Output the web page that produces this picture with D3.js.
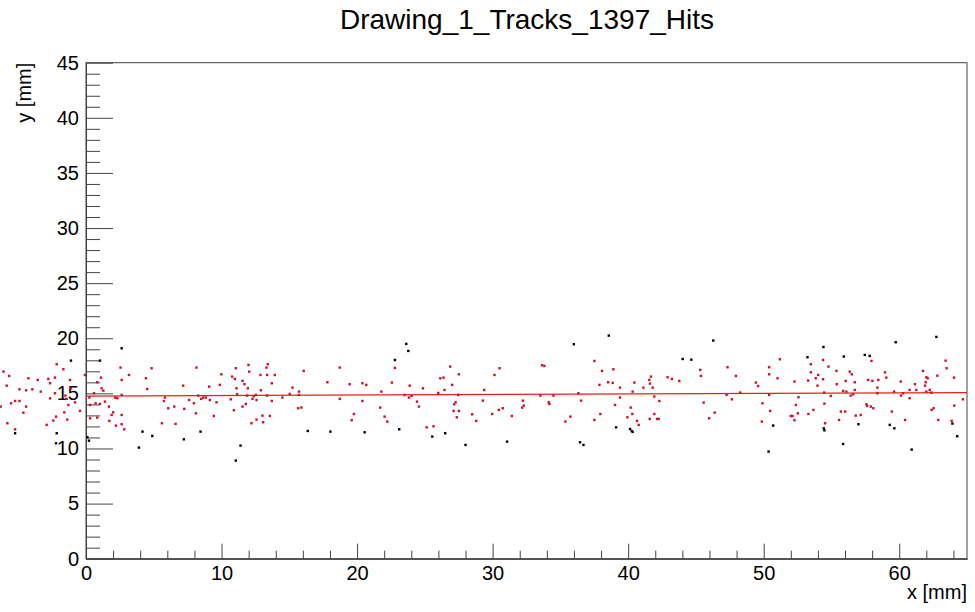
<!DOCTYPE html>
<html>
<head>
<meta charset="utf-8">
<script src="https://cdn.jsdelivr.net/npm/d3@7"></script>
<style>
  html, body { margin: 0; padding: 0; background: #fff; }
  svg { display: block; font-family: "Liberation Sans", Arial, Helvetica, sans-serif; }
</style>
</head>
<body>
<svg id="chart" width="975" height="612"></svg>
<script>
// ---------- data ----------
const chartTitle = "Drawing_1_Tracks_1397_Hits";
const xTitle = "x [mm]";
const yTitle = "y [mm]";
const xDomain = [0, 65];
const yDomain = [0, 45];
const xMajorTicks = [0, 10, 20, 30, 40, 50, 60];
const yMajorTicks = [0, 5, 10, 15, 20, 25, 30, 35, 40, 45];

// hits assigned to the track (red)
const redX = [
 -6.09,-5.67,-5.85,-6.29,-5.53,-5.23,-4.91,-4.91,-4.42,-3.96,-4.25,-3.56,-2.78,-2.65,-2.29,-2.16,-1.67,-1.18,-1.11,-3.34,
 -2.29,-2.65,-4.42,-4.62,-5.80,-5.23,-2.90,-2.41,-2.21,-1.60,-1.38,-0.44,-1.52,-1.43,-1.30,-0.81,-0.08,
 0.25,0.59,0.71,1.03,0.83,1.10,1.15,1.28,1.40,1.69,1.89,2.01,1.72,2.21,0.30,0.83,2.14,2.31,0.30,
 2.55,2.63,3.17,2.63,2.63,2.63,2.82,4.84,4.42,4.52,7.17,8.15,5.82,5.75,6.07,6.51,5.60,6.61,7.25,7.61,7.96,8.11,8.28,8.50,
 8.65,8.84,9.14,9.09,9.63,9.43,9.87,9.99,10.68,10.78,10.98,11.05,11.10,11.15,10.91,
 11.55,11.69,11.99,12.04,11.94,11.89,11.55,11.79,12.28,12.38,12.53,12.58,12.90,12.87,13.31,13.41,13.36,13.93,13.71,13.36,
 13.71,12.21,12.58,13.02,13.07,13.56,14.49,15.03,15.23,15.72,15.70,15.65,15.89,16.06,17.81,18.72,18.72,19.45,19.77,19.60,
 20.39,20.68,20.39,21.71,21.79,22.03,22.23,22.57,22.79,23.51,23.83,23.88,24.02,24.42,24.56,24.86,25.13,25.64,25.99,26.14,
 26.38,26.45,26.87,27.02,27.51,27.46,27.27,27.17,27.12,27.51,27.36,28.49,28.79,
 29.28,29.38,30.14,30.51,29.97,30.46,30.75,31.42,32.23,32.30,32.18,33.53,33.65,33.82,34.14,34.19,34.49,35.37,35.74,36.33,
 36.53,37.51,37.51,
 37.88,37.95,38.07,38.91,38.52,38.86,39.40,39.40,39.03,40.46,40.33,41.12,41.56,41.68,41.61,41.81,41.93,42.30,40.19,40.31,
 39.94,40.65,40.78,41.59,41.93,42.13,42.25,42.91,43.23,43.77,45.32,45.37,45.57,45.98,46.38,
 47.33,47.95,49.42,49.59,47.26,48.27,47.65,50.40,50.40,51.02,51.19,50.40,49.91,50.48,49.86,52.27,52.57,52.37,52.52,52.27,
 52.00,52.12,53.28,53.48,53.48,53.84,54.02,54.38,54.38,53.97,54.46,54.78,55.37,55.39,54.95,54.48,53.67,53.30,54.53,
 55.56,55.69,56.01,55.86,56.10,56.05,56.35,56.50,56.72,56.72,56.42,56.60,56.79,57.16,57.58,57.63,57.90,58.09,57.70,58.02,
 58.46,58.39,58.39,57.95,58.95,59.05,59.45,59.62,60.11,60.13,60.28,60.43,60.77,60.77,61.16,61.26,61.75,61.90,61.95,62.00,
 62.10,62.00,62.25,62.37,62.39,62.54,62.81,62.88,63.42,63.50,64.04,64.06,63.87,64.70
];
const redY = [
 16.98,16.58,15.70,13.80,14.10,14.31,15.37,14.31,15.28,15.37,16.37,16.22,16.31,15.92,16.43,17.64,17.19,16.22,15.46,15.16,
 15.01,14.55,13.80,13.25,12.29,11.74,12.14,12.53,12.89,13.28,12.62,13.41,14.80,14.50,13.95,14.19,16.67,
 14.62,15.01,14.10,14.04,16.01,16.43,15.46,15.25,14.25,13.80,13.04,13.28,12.50,12.07,12.74,12.80,14.62,14.56,13.95,
 17.34,16.22,16.67,14.86,13.04,12.20,11.74,17.28,16.37,15.40,15.70,17.34,14.62,14.31,13.65,13.80,12.29,12.23,13.59,14.40,14.10,13.19,14.80,14.50,
 14.62,14.62,14.40,15.61,14.19,12.95,15.77,16.73,14.46,16.52,16.31,17.28,15.46,14.92,13.47,
 16.13,15.83,17.58,16.97,15.46,14.80,13.80,14.04,14.50,14.74,14.86,14.40,15.28,16.67,17.34,17.64,16.67,16.67,15.92,14.80,
 14.31,12.29,12.62,12.98,12.38,12.95,14.62,14.95,15.52,15.16,14.86,13.65,13.71,17.04,16.01,17.34,14.50,15.83,13.13,12.56,
 15.92,15.77,14.31,13.71,15.16,12.89,12.44,15.98,17.31,14.86,14.62,15.70,14.77,14.25,13.80,15.46,11.92,12.01,15.04,16.37,
 16.43,15.31,17.43,15.77,16.73,14.86,14.19,14.01,13.41,13.41,12.83,13.10,12.50,
 14.34,15.31,16.67,17.28,13.13,13.50,13.65,12.95,14.34,13.89,13.71,14.80,17.55,17.49,14.19,14.04,14.80,12.44,12.89,15.01,
 14.34,17.94,12.59,
 15.77,13.13,17.04,17.19,16.01,15.95,15.52,14.62,13.95,15.98,15.16,15.52,16.22,16.52,15.89,15.52,14.71,14.31,13.71,13.13,
 12.83,12.50,12.14,12.68,13.13,12.68,12.68,16.46,16.31,16.13,17.13,16.58,14.16,12.74,13.25,
 17.37,16.58,15.98,15.67,14.86,15.07,14.46,17.37,16.73,16.37,18.09,14.86,14.10,13.41,12.44,16.07,14.65,13.95,13.19,12.56,
 12.95,12.95,16.16,17.64,16.91,16.37,16.67,18.03,16.28,15.70,15.07,17.43,17.04,15.83,14.77,14.07,13.50,13.13,12.29,
 12.59,13.35,13.35,15.22,15.16,16.13,16.97,16.73,16.01,15.31,14.80,14.92,12.98,13.04,14.01,13.86,13.80,13.65,16.22,16.13,
 16.22,15.52,15.01,17.94,16.91,16.43,13.35,15.16,16.07,14.80,15.01,12.59,15.31,14.56,15.83,15.31,17.04,15.70,16.01,16.46,
 16.37,15.16,15.31,15.07,13.50,13.65,16.61,12.59,17.97,17.28,16.43,13.89,12.50,14.46
];

// hits not assigned (black)
const blackX = [
 -5.23,-2.16,-1.11,-2.21,1.03,0.22,0.10,
 2.63,4.17,4.89,3.90,7.22,8.45,11.05,
 11.40,16.36,18.03,
 23.63,23.78,22.79,20.56,23.11,25.55,26.50,28.00,
 35.99,31.07,36.45,36.70,
 38.57,46.28,44.02,44.66,39.11,40.14,40.26,40.33,
 54.41,53.23,50.70,50.36,54.43,54.48,
 55.91,57.46,57.82,59.74,62.74,56.99,55.86,59.30,59.64,60.92,63.92,64.28
];
const blackY = [
 11.38,11.38,17.97,10.47,17.97,10.71,11.02,
 19.09,11.53,11.14,10.08,10.83,11.53,8.90,
 10.26,11.59,11.53,
 19.49,18.85,18.03,11.47,11.74,11.08,11.38,10.32,
 19.46,10.62,10.56,10.32,
 20.24,19.79,18.12,18.06,11.92,11.77,11.59,11.50,
 19.21,18.28,12.08,9.72,11.83,11.65,
 18.34,18.49,18.40,19.64,20.12,12.20,10.41,12.14,11.83,9.90,12.26,11.11
];

// fitted track line (end points)
const fitX = [0, 65];
const fitY = [14.75, 15.07];

// ---------- drawing ----------
const svg = d3.select("#chart");
const L = 86, R = 967, T = 62.7, B = 558.7;

const x = d3.scaleLinear().domain(xDomain).range([L, R]);
const y = d3.scaleLinear().domain(yDomain).range([B, T]);

const axisColor = "#444";
const fontFam = '"Liberation Sans", Arial, Helvetica, sans-serif';

// title
svg.append("text")
  .attr("x", 527).attr("y", 29)
  .attr("text-anchor", "middle")
  .attr("font-size", 28)
  .attr("fill", "#000")
  .text(chartTitle);

// frame
svg.append("rect")
  .attr("x", L).attr("y", T)
  .attr("width", R - L).attr("height", B - T)
  .attr("fill", "none")
  .attr("stroke", axisColor)
  .attr("stroke-width", 1);

// x axis: major + minor ticks
const xMinor = d3.range(xDomain[0], xDomain[1] + 0.001, 2).filter(v => !xMajorTicks.includes(v));
const gx = svg.append("g").attr("transform", `translate(0,${B})`);
gx.call(d3.axisBottom(x).tickValues(xMajorTicks).tickSize(-15).tickSizeOuter(0).tickPadding(7).tickFormat(d3.format("d")));
const gxm = svg.append("g").attr("transform", `translate(0,${B})`);
gxm.call(d3.axisBottom(x).tickValues(xMinor).tickSize(-8).tickSizeOuter(0).tickFormat(""));

// y axis: major + minor ticks
const yMinor = d3.range(yDomain[0], yDomain[1] + 0.001, 1).filter(v => !yMajorTicks.includes(v));
const gy = svg.append("g").attr("transform", `translate(${L},0)`);
gy.call(d3.axisLeft(y).tickValues(yMajorTicks).tickSize(-27).tickSizeOuter(0).tickPadding(7).tickFormat(d3.format("d")));
const gym = svg.append("g").attr("transform", `translate(${L},0)`);
gym.call(d3.axisLeft(y).tickValues(yMinor).tickSize(-14).tickSizeOuter(0).tickFormat(""));

[gx, gxm, gy, gym].forEach(g => {
  g.selectAll("path.domain").attr("stroke", axisColor);
  g.selectAll(".tick line").attr("stroke", axisColor);
  g.selectAll(".tick text").attr("fill", "#000").attr("font-size", 20).attr("font-family", fontFam);
});

// axis titles
svg.append("text")
  .attr("x", R).attr("y", 599)
  .attr("text-anchor", "end")
  .attr("font-size", 20)
  .text(xTitle);
svg.append("text")
  .attr("transform", `translate(31,${T}) rotate(-90)`)
  .attr("text-anchor", "end")
  .attr("font-size", 20)
  .text(yTitle);

// fit line
svg.append("line")
  .attr("x1", x(fitX[0])).attr("y1", y(fitY[0]))
  .attr("x2", x(fitX[1])).attr("y2", y(fitY[1]))
  .attr("stroke", "#e8201c").attr("stroke-width", 1.2);

// markers
const ms = 2.4;
const redPts = redX.map((v, i) => [v, redY[i]]);
const blackPts = blackX.map((v, i) => [v, blackY[i]]);
svg.append("g").selectAll("rect").data(blackPts).join("rect")
  .attr("x", d => x(d[0]) - ms / 2).attr("y", d => y(d[1]) - ms / 2)
  .attr("width", ms).attr("height", ms).attr("fill", "#000");
svg.append("g").selectAll("rect").data(redPts).join("rect")
  .attr("x", d => x(d[0]) - ms / 2).attr("y", d => y(d[1]) - ms / 2)
  .attr("width", ms).attr("height", ms).attr("fill", "#d0102a");
</script>
</body>
</html>
